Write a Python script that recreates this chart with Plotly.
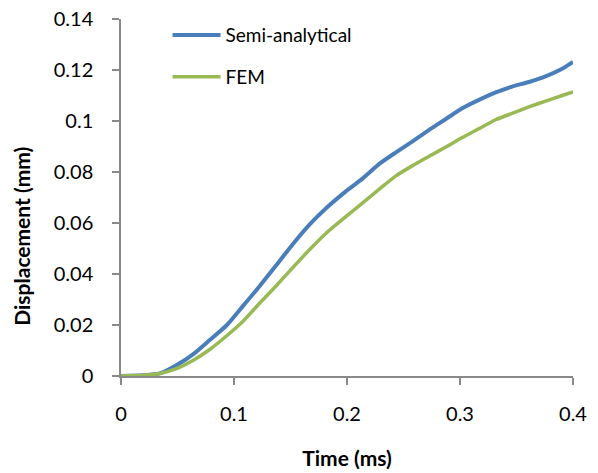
import plotly.graph_objects as go

# Time samples (ms)
time_ms = [0.0, 0.02, 0.0344, 0.049, 0.064, 0.0785, 0.0933, 0.108, 0.1226, 0.137,
           0.152, 0.167, 0.1815, 0.199, 0.212, 0.2286, 0.2433, 0.258, 0.2727,
           0.2875, 0.302, 0.3168, 0.3316, 0.3462, 0.361, 0.3757, 0.3904, 0.4]

# Displacement (mm) - semi-analytical solution
semi_analytical = [0.0, 0.0003, 0.001, 0.0042, 0.0086, 0.0141, 0.0198, 0.0275, 0.0352,
                   0.0432, 0.0517, 0.0595, 0.0658, 0.0724, 0.0768, 0.0832, 0.0877,
                   0.0920, 0.0965, 0.1008, 0.1050, 0.1083, 0.1112, 0.1135, 0.1153,
                   0.1175, 0.1205, 0.1232]

# Displacement (mm) - finite element model
fem = [0.0, 0.0003, 0.001, 0.0029, 0.0062, 0.0104, 0.0157, 0.0215, 0.0285, 0.0352,
       0.0425, 0.0496, 0.0560, 0.0625, 0.0672, 0.0733, 0.0785, 0.0825, 0.0862,
       0.0898, 0.0935, 0.0970, 0.1005, 0.1030, 0.1055, 0.1078, 0.1100, 0.1114]

x_ticks = [0, 0.1, 0.2, 0.3, 0.4]
x_tick_labels = ["0", "0.1", "0.2", "0.3", "0.4"]
y_ticks = [0, 0.02, 0.04, 0.06, 0.08, 0.1, 0.12, 0.14]
y_tick_labels = ["0", "0.02", "0.04", "0.06", "0.08", "0.1", "0.12", "0.14"]

FONT = "Lato, 'Open Sans', sans-serif"
AXIS_GREY = "#898989"

fig = go.Figure()
fig.add_trace(go.Scatter(
    x=time_ms, y=semi_analytical, mode="lines", name="Semi-analytical",
    line=dict(color="#4A7EBB", width=4, shape="spline", smoothing=0.6),
    legendgroup="a",
))
fig.add_trace(go.Scatter(
    x=time_ms, y=fem, mode="lines", name="FEM",
    line=dict(color="#98B954", width=3.5, shape="spline", smoothing=0.6),
    legendgroup="b",
))

# y-axis title, sitting slightly below the vertical centre of the plot area
fig.add_annotation(
    text="<b>Displacement (mm)</b>", textangle=-90,
    xref="paper", yref="paper", x=0, y=0.39,
    xanchor="center", yanchor="middle", xshift=-99, showarrow=False,
    font=dict(size=21, family=FONT, color="#000000"),
)

fig.update_layout(
    width=598, height=473,
    margin=dict(l=121, r=25, t=19, b=97, autoexpand=False),
    paper_bgcolor="white", plot_bgcolor="white",
    font=dict(family=FONT, color="#000000", size=20),
    showlegend=True,
    legend=dict(
        x=0.103, y=1.008, xanchor="left", yanchor="top",
        bgcolor="rgba(0,0,0,0)", font=dict(size=19, family=FONT),
        tracegroupgap=14, itemwidth=48,
    ),
    xaxis=dict(
        range=[0, 0.4], tickvals=x_ticks, ticktext=x_tick_labels,
        showgrid=False, zeroline=False, showline=True, linecolor=AXIS_GREY,
        linewidth=1.5, ticks="outside", ticklen=7, tickcolor=AXIS_GREY,
        tickwidth=1.5, ticklabelstandoff=12, automargin=False,
        tickfont=dict(size=20, family=FONT),
        title=dict(text="<b>Time (ms)</b>", font=dict(size=21, family=FONT), standoff=28),
    ),
    yaxis=dict(
        range=[0, 0.14], tickvals=y_ticks, ticktext=y_tick_labels,
        showgrid=False, zeroline=False, showline=True, linecolor=AXIS_GREY,
        linewidth=1.5, ticks="outside", ticklen=7, tickcolor=AXIS_GREY,
        tickwidth=1.5, ticklabelstandoff=15, automargin=False,
        tickfont=dict(size=20, family=FONT),
    ),
)

fig.write_html("out.html")
